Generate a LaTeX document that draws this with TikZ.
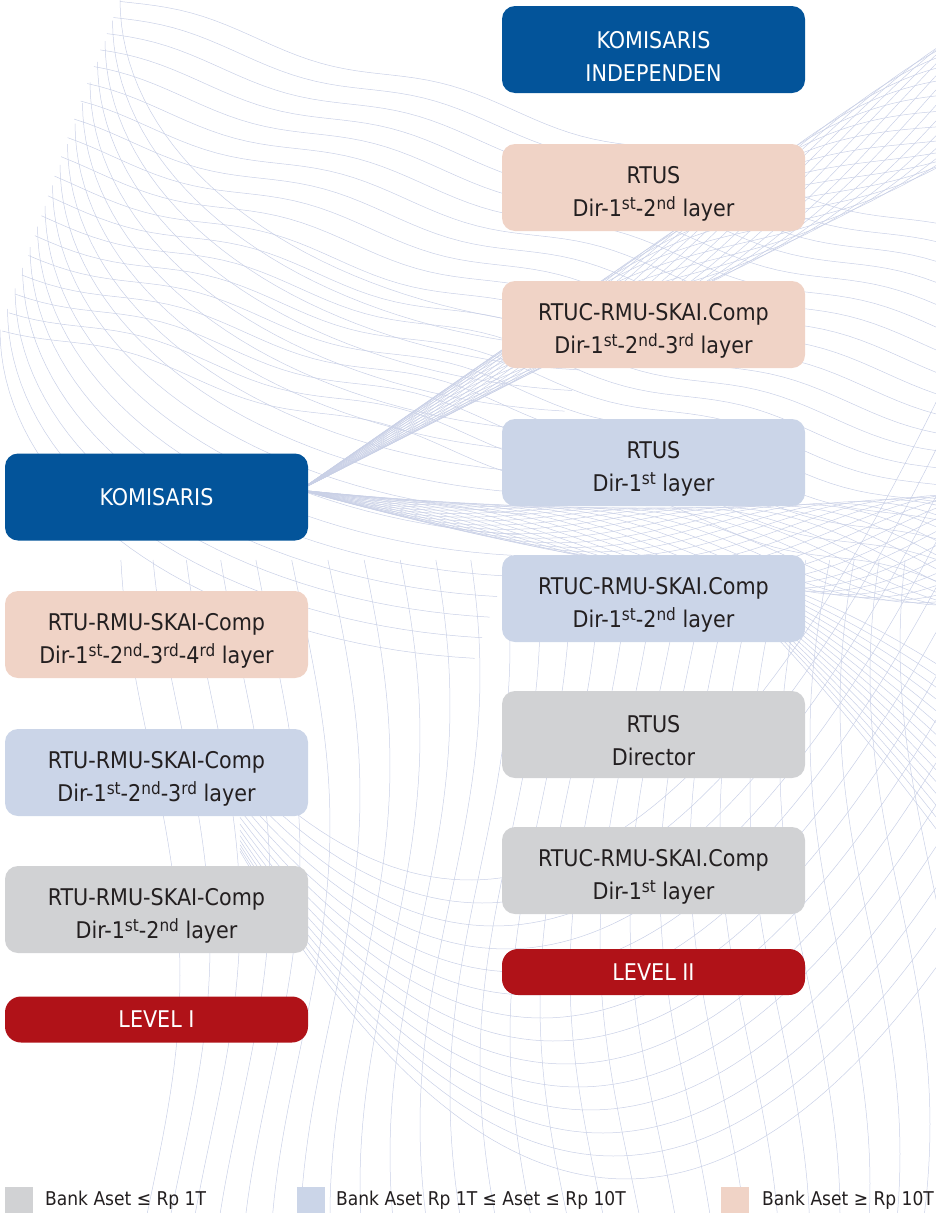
\documentclass[tikz,border=0pt]{standalone}
\usepackage{fontspec}
\setmainfont{DejaVu Sans Condensed}
\definecolor{navy}{HTML}{03549A}
\definecolor{peach}{HTML}{F0D3C6}
\definecolor{lblue}{HTML}{CBD5E8}
\definecolor{lgray}{HTML}{D1D2D4}
\definecolor{dred}{HTML}{B01218}
\definecolor{ink}{HTML}{231F20}
\definecolor{wave}{HTML}{C9D0E6}
% raised ordinal suffix
\newcommand\sps[1]{\raisebox{0.3em}{\fontsize{17}{17}\selectfont #1}}
% strut that lowers two-line labels a little
\newcommand\tls{\rule{0pt}{30pt}}
\begin{document}
\begin{tikzpicture}[x=1pt,y=-1pt,
  box/.style={rounded corners=13pt, minimum width=303pt, minimum height=87pt,
    inner sep=0pt, align=center, font=\fontsize{23}{33}\selectfont, text=ink},
  headbox/.style={box, fill=navy, text=white},
  peachbox/.style={box, fill=peach},
  bluebox/.style={box, fill=lblue},
  graybox/.style={box, fill=lgray},
  levelbox/.style={box, fill=dred, text=white, minimum height=46pt, rounded corners=16pt},
  swatch/.style={minimum width=28pt, minimum height=26pt, inner sep=0pt},
  legtext/.style={anchor=west, inner sep=0pt, font=\fontsize{19}{19}\selectfont, text=ink},
  bg/.style={draw=wave, line width=0.5pt}]
\useasboundingbox (0,0) rectangle (936,1213);

% decorative guilloche background
\begin{scope}[bg]
  % upper-left mesh: wavy rows starting on a slanted edge
  \foreach \k [evaluate=\k as \yo using 18*\k,
               evaluate=\k as \xs using 120-6.545*\k] in {0,...,18}
    \draw plot[domain=\xs:936, samples=70] (\x, {\yo + 0.28*(\x-\xs) + 7*sin(1.4*\x + 25*\k)});
  % upper-left mesh: columns bending from downward to rightward
  \foreach \k [evaluate=\k as \xs using 120-7.5*\k,
               evaluate=\k as \ys using 20.6*\k] in {0,...,16}
    \draw plot[domain=0:85, samples=40] ({\xs + 520*(1-cos(\x))}, {\ys + 330*sin(\x)});
  % rope rising towards the upper right
  \foreach \p in {0,15,...,345}
    \draw plot[domain=300:936, samples=60] (\x, {490 - 0.6*(\x-300) + 60*((\x-300)/636)*sin(0.5*\x + \p)});
  % horizontal rope opening to the right
  \foreach \p in {0,15,...,345}
    \draw plot[domain=300:936, samples=70] (\x, {490 + 0.19*(\x-300) - 1.5*((\x-300)/100)^2 + 55*((\x-300)/636)*sin(0.55*\x + \p)});
  % fan spreading down to the right
  \foreach \k in {0,...,14}
    \draw plot[domain=700:936, samples=30] (\x, {560 + (0.25 + 0.05*\k)*(\x-700) + 8*((\x-700)/100)^2});
  % near-vertical wavy lines in the lower half
  \foreach \u in {150,180,...,930}
    \draw plot[domain=560:1213, samples=45] ({\u + 30*sin(0.4*\x + 0.4*\u)}, {\x});
  % bowls in the lower half
  \foreach \k in {0,...,13}
    \draw plot[domain=240:936, samples=70] (\x, {880 + 23*\k - 22*((\x-470-12*\k)/100)^2});
\end{scope}

% right column: level II
\node[headbox]  (ki)  at (653.5, 49.5) {\tls KOMISARIS\\INDEPENDEN};
\node[peachbox] (r1)  at (653.5,187.5) {\tls RTUS\\Dir-1\sps{st}-2\sps{nd} layer};
\node[peachbox] (r2)  at (653.5,324.5) {\tls RTUC-RMU-SKAI.Comp\\Dir-1\sps{st}-2\sps{nd}-3\sps{rd} layer};
\node[bluebox]  (r3)  at (653.5,462.5) {\tls RTUS\\Dir-1\sps{st} layer};
\node[bluebox]  (r4)  at (653.5,598.5) {\tls RTUC-RMU-SKAI.Comp\\Dir-1\sps{st}-2\sps{nd} layer};
\node[graybox]  (r5)  at (653.5,734.5) {\tls RTUS\\Director};
\node[graybox]  (r6)  at (653.5,870.5) {\tls RTUC-RMU-SKAI.Comp\\Dir-1\sps{st} layer};
\node[levelbox] (l2)  at (653.5,972)   {LEVEL II};

% left column: level I
\node[headbox]  (k)   at (156.5,497)   {KOMISARIS};
\node[peachbox] (s1)  at (156.5,634.5) {\tls RTU-RMU-SKAI-Comp\\Dir-1\sps{st}-2\sps{nd}-3\sps{rd}-4\sps{rd} layer};
\node[bluebox]  (s2)  at (156.5,772.5) {\tls RTU-RMU-SKAI-Comp\\Dir-1\sps{st}-2\sps{nd}-3\sps{rd} layer};
\node[graybox]  (s3)  at (156.5,909.5) {\tls RTU-RMU-SKAI-Comp\\Dir-1\sps{st}-2\sps{nd} layer};
\node[levelbox] (l1)  at (156.5,1019.5){LEVEL I};

% legend
\node[swatch, fill=lgray] (g1) at (19,1200) {};
\node[legtext] (t1) at (45,1200) {Bank Aset ≤ Rp 1T};
\node[swatch, fill=lblue] (g2) at (311,1200) {};
\node[legtext] (t2) at (336,1200) {Bank Aset Rp 1T ≤ Aset ≤ Rp 10T};
\node[swatch, fill=peach] (g3) at (735,1200) {};
\node[legtext] (t3) at (762,1200) {Bank Aset ≥ Rp 10T};
\end{tikzpicture}
\end{document}
